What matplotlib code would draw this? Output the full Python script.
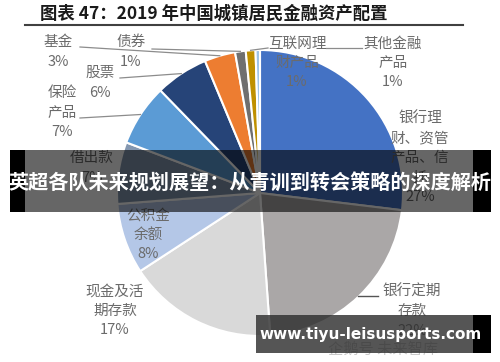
import matplotlib.pyplot as plt
import numpy as np
from matplotlib.patches import Rectangle

plt.rcParams['font.family'] = ['Noto Sans CJK SC', 'DejaVu Sans']

# 2019 urban household financial asset allocation (clockwise from 12 o'clock)
categories = ["银行理财、资管产品、信托", "银行定期存款", "现金及活期存款", "公积金余额",
              "借出款", "保险产品", "股票", "基金", "债券", "互联网理财产品", "其他金融产品"]
shares = [27, 22, 17, 8, 7, 7, 6, 3.5, 1.2, 1.1, 0.5]
pct_labels = ["27%", "22%", "17%", "8%", "7%", "7%", "6%", "3%", "1%", "1%", "1%"]
colors = ["#4472C4", "#AAA7A7", "#D9D9D9", "#B4C7E7", "#8497B0", "#5B9BD5",
          "#264478", "#ED7D31", "#6F6F6F", "#BF9000", "#9DC3E6"]

W, H = 500, 362
fig = plt.figure(figsize=(W / 100, H / 100), dpi=100)

# pie geometry in pixels
cx, cy, R = 260, 193, 143
ax = fig.add_axes([(cx - R) / W, (H - cy - R) / H, 2 * R / W, 2 * R / H])
ax.pie(shares, colors=colors, startangle=90, counterclock=False, radius=1,
       wedgeprops=dict(edgecolor="white", linewidth=1.5))
ax.set_xlim(-1, 1)
ax.set_ylim(-1, 1)
ax.axis("off")

# overlay in pixel coordinates
ov = fig.add_axes([0, 0, 1, 1], facecolor="none")
ov.set_xlim(0, W)
ov.set_ylim(H, 0)
ov.axis("off")

# title
ov.text(40, 14, "图表 47：2019 年中国城镇居民金融资产配置", fontsize=12.5,
        fontweight="bold", color="#1a1a1a", va="center", ha="left")
ov.plot([25, 463], [25, 25], color="#404040", lw=1.5)

# wedge mid-angles -> edge points
frac = np.array(shares) / sum(shares)
ends = np.cumsum(frac) * 360
mids = ends - frac * 180


def edge(i, r=1.0):
    t = np.deg2rad(mids[i])
    return cx + R * r * np.sin(t), cy - R * r * np.cos(t)


lab_col = "#6b6b6b"
fs = 10.5
ls = 1.5
label_text = {
    0: ("银行理\n财、资管\n产品、信\n托\n" + pct_labels[0], 420, 158),
    1: ("银行定期\n存款\n" + pct_labels[1], 412, 311),
    2: ("现金及活\n期存款\n" + pct_labels[2], 115, 311),
    3: ("公积金\n余额\n" + pct_labels[3], 148, 235),
    4: ("借出款\n" + pct_labels[4], 92, 168),
    5: ("保险\n产品\n" + pct_labels[5], 62, 113),
    6: ("股票\n" + pct_labels[6], 100, 83),
    7: ("基金\n" + pct_labels[7], 58, 52),
    8: ("债券\n" + pct_labels[8], 131, 52),
    9: ("互联网理\n财产品\n" + pct_labels[9], 297, 63),
    10: ("其他金融\n产品\n" + pct_labels[10], 393, 63),
}
for i, (txt, x, y) in label_text.items():
    ov.text(x, y, txt, fontsize=fs, color=lab_col, ha="center", va="center",
            linespacing=ls, zorder=5)

# leader lines
lc = "#8c8c8c"
leaders = {7: (80, 47), 8: (152, 49), 6: (120, 78), 5: (80, 118)}
for i, (x0, y0) in leaders.items():
    ex, ey = edge(i)
    ov.plot([x0, ex], [y0, ey], color=lc, lw=0.9, zorder=4)
ex, ey = edge(9)
ov.plot([ex, 268], [ey, 48], color=lc, lw=0.9, zorder=4)
ov.plot([326, 362], [48, 48], color=lc, lw=0.9, zorder=4)
ov.plot([358, 378], [296, 296], color="#555555", lw=1.0, zorder=4)

# banner overlay
ov.add_patch(Rectangle((10, 150), 481, 62, facecolor="black", alpha=0.6,
                       edgecolor="none", zorder=10))
ov.add_patch(Rectangle((10, 150), 15, 62, facecolor="black", edgecolor="none", zorder=10))
ov.add_patch(Rectangle((473, 150), 18, 62, facecolor="black", edgecolor="none", zorder=10))
ov.text(250, 183, "英超各队未来规划展望：从青训到转会策略的深度解析", fontsize=14.5,
        fontweight="bold", color="white", ha="center", va="center", zorder=11)

# watermark
ov.text(383, 349, "企鹅号 未来智库", fontsize=11, color="#c8c8c8", ha="center",
        va="center", zorder=3)
ov.add_patch(Rectangle((256, 315), 217, 38, facecolor="#2b2b2b", alpha=0.8,
                       edgecolor="none", zorder=10))
ov.add_patch(Rectangle((473, 315), 18, 38, facecolor="black", edgecolor="none", zorder=10))
ov.text(371, 335, "www.tiyu-leisusports.com", fontsize=11, fontweight="bold",
        color="white", ha="center", va="center", family="DejaVu Sans", zorder=11)

fig.savefig("out.png", dpi=100)
